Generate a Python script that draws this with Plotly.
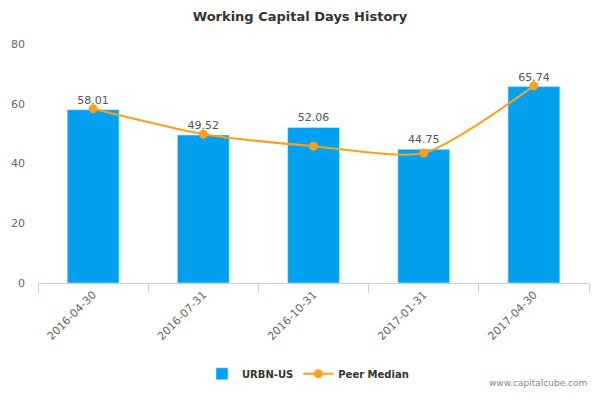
import plotly.graph_objects as go

# chart values
dates = ['2016-04-30', '2016-07-31', '2016-10-31', '2017-01-31', '2017-04-30']
urbn = [58.01, 49.52, 52.06, 44.75, 65.74]
peer_median = [58.3, 49.8, 45.8, 43.5, 66.0]

fig = go.Figure()

fig.add_trace(go.Bar(
    x=dates, y=urbn, name='<b>URBN-US</b>',
    marker=dict(color='#03a0ef'),
    width=0.47,
    text=[f'{v:.2f}' for v in urbn],
    textposition='outside',
    textfont=dict(color='#555555', size=11),
    cliponaxis=False,
))

fig.add_trace(go.Scatter(
    x=dates, y=peer_median, name='<b>Peer Median</b>',
    mode='lines+markers',
    line=dict(color='#f9a11b', width=2, shape='spline', smoothing=0.65),
    marker=dict(color='#f9a11b', size=9),
))

fig.update_layout(
    width=600, height=400,
    margin=dict(l=38, r=11, t=44, b=107),
    paper_bgcolor='white', plot_bgcolor='white',
    font=dict(family='DejaVu Sans', color='#666666', size=11),
    title=dict(text='<b>Working Capital Days History</b>', x=0.5, xanchor='center',
               y=0.959, yanchor='middle', font=dict(size=13, color='#333333')),
    xaxis=dict(
        type='category', tickangle=-45, automargin=False,
        showline=True, linecolor='#c0d0e0', linewidth=1,
        ticks='outside', tickson='boundaries', ticklen=9, tickcolor='#c0d0e0',
        showgrid=False, tickfont=dict(size=11, color='#666666'),
    ),
    yaxis=dict(
        range=[0, 80], dtick=20, showgrid=False, zeroline=False, automargin=False,
        showline=False, tickfont=dict(size=11, color='#666666'), ticklabelstandoff=12,
    ),
    legend=dict(orientation='h', x=0.49, xanchor='center', y=-0.38, yanchor='middle',
                font=dict(size=10, color='#333333'), itemwidth=30),
    showlegend=True,
)

fig.add_annotation(
    text='www.capitalcube.com', xref='paper', yref='paper',
    x=1.0, y=-0.418, xanchor='right', yanchor='middle', showarrow=False,
    font=dict(size=9, color='#888888'),
)

# drop the default 8px page margin so the figure sits at the window origin
fig.write_html('out.html', config={'displayModeBar': False},
               post_script="document.body.style.margin='0';document.body.style.overflow='hidden';")
